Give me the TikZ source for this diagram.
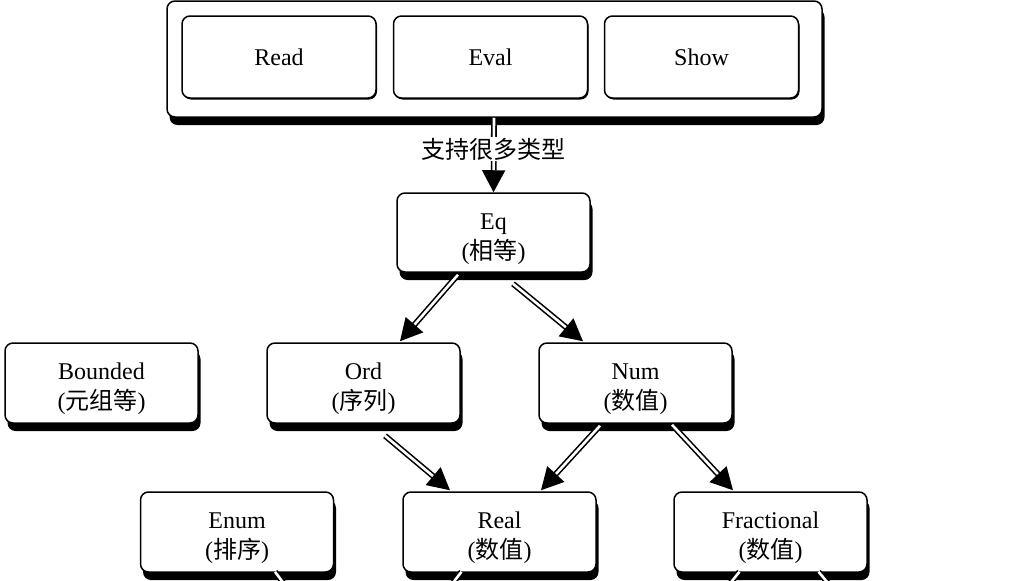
\documentclass[tikz,border=0pt]{standalone}
\usepackage{fontspec}
\setmainfont{Liberation Serif}
\newfontfamily\cjk{Noto Sans CJK SC}
\usetikzlibrary{arrows.meta,shadows,calc}
\newcommand\tallstrut{\rule{0pt}{29pt}}
\begin{document}
\begin{tikzpicture}[x=1pt,y=-1pt,
  box/.style={draw=black, line width=1.5pt, fill=white, rounded corners=8pt,
    minimum width=193pt, minimum height=80pt, inner sep=0pt, align=center,
    font=\fontsize{24}{30}\selectfont,
    drop shadow={shadow xshift=2.5pt, shadow yshift=-8pt, fill=black, opacity=1}},
  inbox/.style={draw=black, line width=1.5pt, fill=white, rounded corners=8pt,
    minimum width=194pt, minimum height=82pt, inner sep=0pt, align=center,
    font=\fontsize{24}{30}\selectfont,
    drop shadow={shadow xshift=1pt, shadow yshift=-1.5pt, fill=black, opacity=1}},
  arr/.style={draw=black, line width=1.6pt, double=white, double distance=2.6pt,
    -{Triangle[length=22pt,width=23pt]}},
  stub/.style={draw=black, line width=1.6pt, double=white, double distance=2.6pt}]
\useasboundingbox (0,0) rectangle (1034,581);
% outer frame
\node[box, minimum width=655pt, minimum height=116pt] (outer) at (494.5,59) {};
\node[inbox] (read) at (279,57) {Read};
\node[inbox] (eval) at (490.5,57) {Eval};
\node[inbox] (show) at (701.5,57) {Show};
% nodes
\node[box, minimum height=79pt] (eq) at (493.5,232.5) {\tallstrut Eq\\({\cjk 相等})};
\node[box] (bounded) at (101.5,383) {\tallstrut Bounded\\({\cjk 元组等})};
\node[box] (ord) at (363.5,383) {\tallstrut Ord\\({\cjk 序列})};
\node[box] (num) at (635.5,383) {\tallstrut Num\\({\cjk 数值})};
\node[box] (enum) at (237,532) {\tallstrut Enum\\({\cjk 排序})};
\node[box] (real) at (499.5,532) {\tallstrut Real\\({\cjk 数值})};
\node[box] (frac) at (770.5,532) {\tallstrut Fractional\\({\cjk 数值})};
% connectors
\draw[arr] ([xshift=-0.5pt]outer.south) -- (eq.north)
  node[pos=0.42, fill=white, inner sep=1pt, font=\fontsize{24}{26}\selectfont\cjk] (lbl) {支持很多类型};
\draw[arr] ([xshift=-35.5pt,yshift=-2pt]eq.south) -- ([xshift=36.5pt,yshift=1pt]ord.north);
\draw[arr] ([xshift=19.5pt,yshift=-11pt]eq.south) -- ([xshift=-52.5pt,yshift=1pt]num.north);
\draw[arr] ([xshift=21.5pt,yshift=-12pt]ord.south) -- ([xshift=-49.5pt,yshift=1pt]real.north);
\draw[arr] ([xshift=-35.5pt,yshift=-2pt]num.south) -- ([xshift=41.5pt,yshift=1pt]real.north);
\draw[arr] ([xshift=36.5pt,yshift=-1pt]num.south) -- ([xshift=-37.5pt,yshift=1pt]frac.north);
% stubs leaving the picture
\coordinate (e1) at (330,645);
\coordinate (r1) at (405,645);
\coordinate (f1) at (680,645);
\coordinate (f2) at (880,645);
\draw[stub] ([xshift=38pt,yshift=1pt]enum.south) -- (e1);
\draw[stub] ([xshift=-38pt,yshift=1pt]real.south) -- (r1);
\draw[stub] ([xshift=-31pt,yshift=1pt]frac.south) -- (f1);
\draw[stub] ([xshift=48pt,yshift=1pt]frac.south) -- (f2);
\end{tikzpicture}
\end{document}
